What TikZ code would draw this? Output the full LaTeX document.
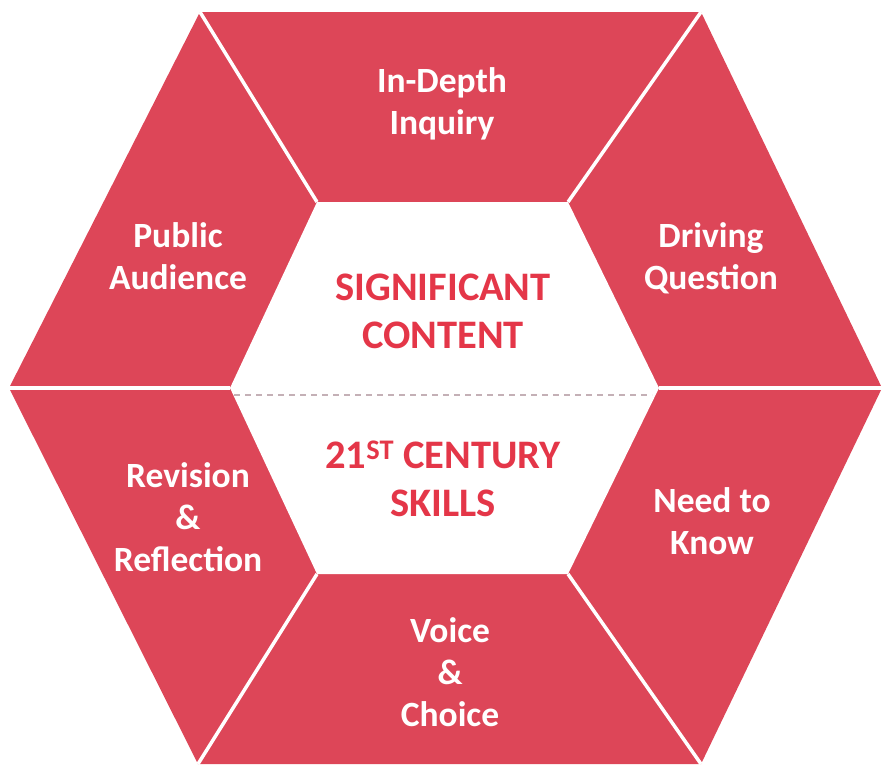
\documentclass[tikz,border=0pt]{standalone}
\usepackage{fontspec}
\setmainfont{Carlito}
\definecolor{hexred}{RGB}{221,70,88}
\definecolor{txtred}{RGB}{228,54,72}
\definecolor{dashgray}{RGB}{196,176,182}
\begin{document}
\begin{tikzpicture}[x=1pt,y=-1pt,
  lbl/.style={align=center,text=white,font=\fontsize{35.5}{42}\selectfont\bfseries,inner sep=0pt},
  ctr/.style={align=center,text=txtred,font=\fontsize{40.5}{48}\selectfont\bfseries,inner sep=0pt},
  divider/.style={white,line width=3.5pt}]
\useasboundingbox (0,0) rectangle (882,766);
% outer vertices
\coordinate (oTL) at (200,12);
\coordinate (oTR) at (701,12);
\coordinate (oR)  at (882,388);
\coordinate (oBR) at (701,764);
\coordinate (oBL) at (198,764);
\coordinate (oL)  at (9,388);
% inner vertices
\coordinate (iTL) at (317,202);
\coordinate (iTR) at (568,202);
\coordinate (iR)  at (659,388);
\coordinate (iBR) at (568,574);
\coordinate (iBL) at (317,574);
\coordinate (iL)  at (230,388);
\fill[hexred] (oTL) -- (oTR) -- (oR) -- (oBR) -- (oBL) -- (oL) -- cycle;
\fill[white] (iTL) -- (iTR) -- (iR) -- (iBR) -- (iBL) -- (iL) -- cycle;
\draw[divider] (iTL) -- (oTL);
\draw[divider] (iTR) -- (oTR);
\draw[divider] (iR) -- (oR);
\draw[divider] (iBR) -- (oBR);
\draw[divider] (iBL) -- (oBL);
\draw[divider] (iL) -- (oL);
\coordinate (dL) at (234,395);
\coordinate (dR) at (652,395);
\draw[dashgray,line width=1.4pt,dash pattern=on 6pt off 5pt] (dL) -- (dR);
% labels
\node[lbl] (inq) at (442,103.5) {In-Depth\\Inquiry};
\node[lbl] (pub) at (178,256.5) {Public\\Audience};
\node[lbl] (drv) at (711,258) {Driving\\Question};
\node[lbl] (rev) at (188,517.5) {Revision\\\&\\Reflection};
\node[lbl] (ntk) at (712,521.5) {Need to\\Know};
\node[lbl] (voc) at (450,672.5) {Voice\\\&\\Choice};
\node[ctr] (sig) at (443,311.5) {SIGNIFICANT\\CONTENT};
\node[ctr] (skl) at (443,478.5) {21\textsuperscript{ST} CENTURY\\SKILLS};
\end{tikzpicture}
\end{document}
